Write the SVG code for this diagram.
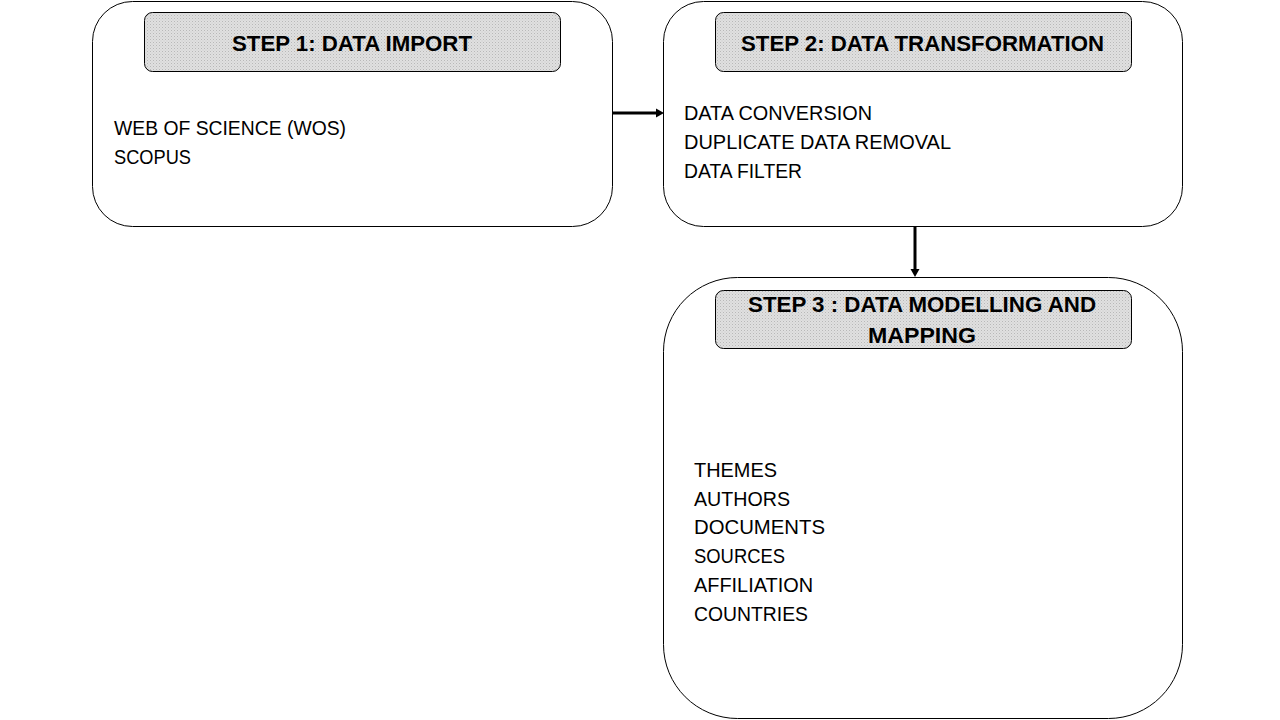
<svg xmlns="http://www.w3.org/2000/svg" width="1280" height="720" viewBox="0 0 1280 720">
<defs>
<pattern id="dots" width="3" height="3" patternUnits="userSpaceOnUse">
<rect width="3" height="3" fill="#e0e0e0"/>
<rect width="1" height="1" fill="#b8b8b8"/>
<rect x="1.5" y="1.5" width="1" height="1" fill="#c8c8c8"/>
</pattern>
</defs>
<style>
.box{fill:#fff;stroke:#000;stroke-width:1}
.hdr{fill:url(#dots);stroke:#000;stroke-width:1}
.ht{font-family:"Liberation Sans",Arial,sans-serif;font-weight:bold;font-size:22px;fill:#000}
.bt{font-family:"Liberation Sans",Arial,sans-serif;font-size:20px;fill:#000}
.con{stroke:#000;stroke-width:3;fill:none}
.head{fill:#000}
</style>
<rect width="1280" height="720" fill="#fff"/>
<g id="connectors">
<line class="con" x1="612" y1="113" x2="657" y2="113"/>
<path class="head" d="M656,108.5 L664,113 L656,117.5 Z"/>
<line class="con" x1="915" y1="226" x2="915" y2="270"/>
<path class="head" d="M910.5,269 L915,277 L919.5,269 Z"/>
</g>
<g id="step1">
<rect class="box" x="92.5" y="1.5" width="520" height="225" rx="40" ry="40"/>
<rect class="hdr" x="144.5" y="12.5" width="416" height="59" rx="8" ry="8"/>
<text class="ht" x="232" y="51" textLength="240" lengthAdjust="spacingAndGlyphs">STEP 1: DATA IMPORT</text>
<text class="bt" x="114" y="135" textLength="232" lengthAdjust="spacingAndGlyphs">WEB OF SCIENCE (WOS)</text>
<text class="bt" x="114" y="164" textLength="77" lengthAdjust="spacingAndGlyphs">SCOPUS</text>
</g>
<g id="step2">
<rect class="box" x="663.5" y="1.5" width="519" height="225" rx="40" ry="40"/>
<rect class="hdr" x="715.5" y="12.5" width="416" height="59" rx="8" ry="8"/>
<text class="ht" x="741" y="51" textLength="363" lengthAdjust="spacingAndGlyphs">STEP 2: DATA TRANSFORMATION</text>
<text class="bt" x="684" y="120" textLength="188" lengthAdjust="spacingAndGlyphs">DATA CONVERSION</text>
<text class="bt" x="684" y="149" textLength="267" lengthAdjust="spacingAndGlyphs">DUPLICATE DATA REMOVAL</text>
<text class="bt" x="684" y="178" textLength="118" lengthAdjust="spacingAndGlyphs">DATA FILTER</text>
</g>
<g id="step3">
<rect class="box" x="663.5" y="277.5" width="519" height="441" rx="74" ry="74"/>
<rect class="hdr" x="715.5" y="290.5" width="416" height="58" rx="8" ry="8"/>
<text class="ht" x="748" y="312" textLength="348" lengthAdjust="spacingAndGlyphs">STEP 3 : DATA MODELLING AND</text>
<text class="ht" x="868" y="343" textLength="108" lengthAdjust="spacingAndGlyphs">MAPPING</text>
<text class="bt" x="694" y="477" textLength="83" lengthAdjust="spacingAndGlyphs">THEMES</text>
<text class="bt" x="694" y="506" textLength="96" lengthAdjust="spacingAndGlyphs">AUTHORS</text>
<text class="bt" x="694" y="534" textLength="131" lengthAdjust="spacingAndGlyphs">DOCUMENTS</text>
<text class="bt" x="694" y="563" textLength="91" lengthAdjust="spacingAndGlyphs">SOURCES</text>
<text class="bt" x="694" y="592" textLength="119" lengthAdjust="spacingAndGlyphs">AFFILIATION</text>
<text class="bt" x="694" y="621" textLength="114" lengthAdjust="spacingAndGlyphs">COUNTRIES</text>
</g>
</svg>
